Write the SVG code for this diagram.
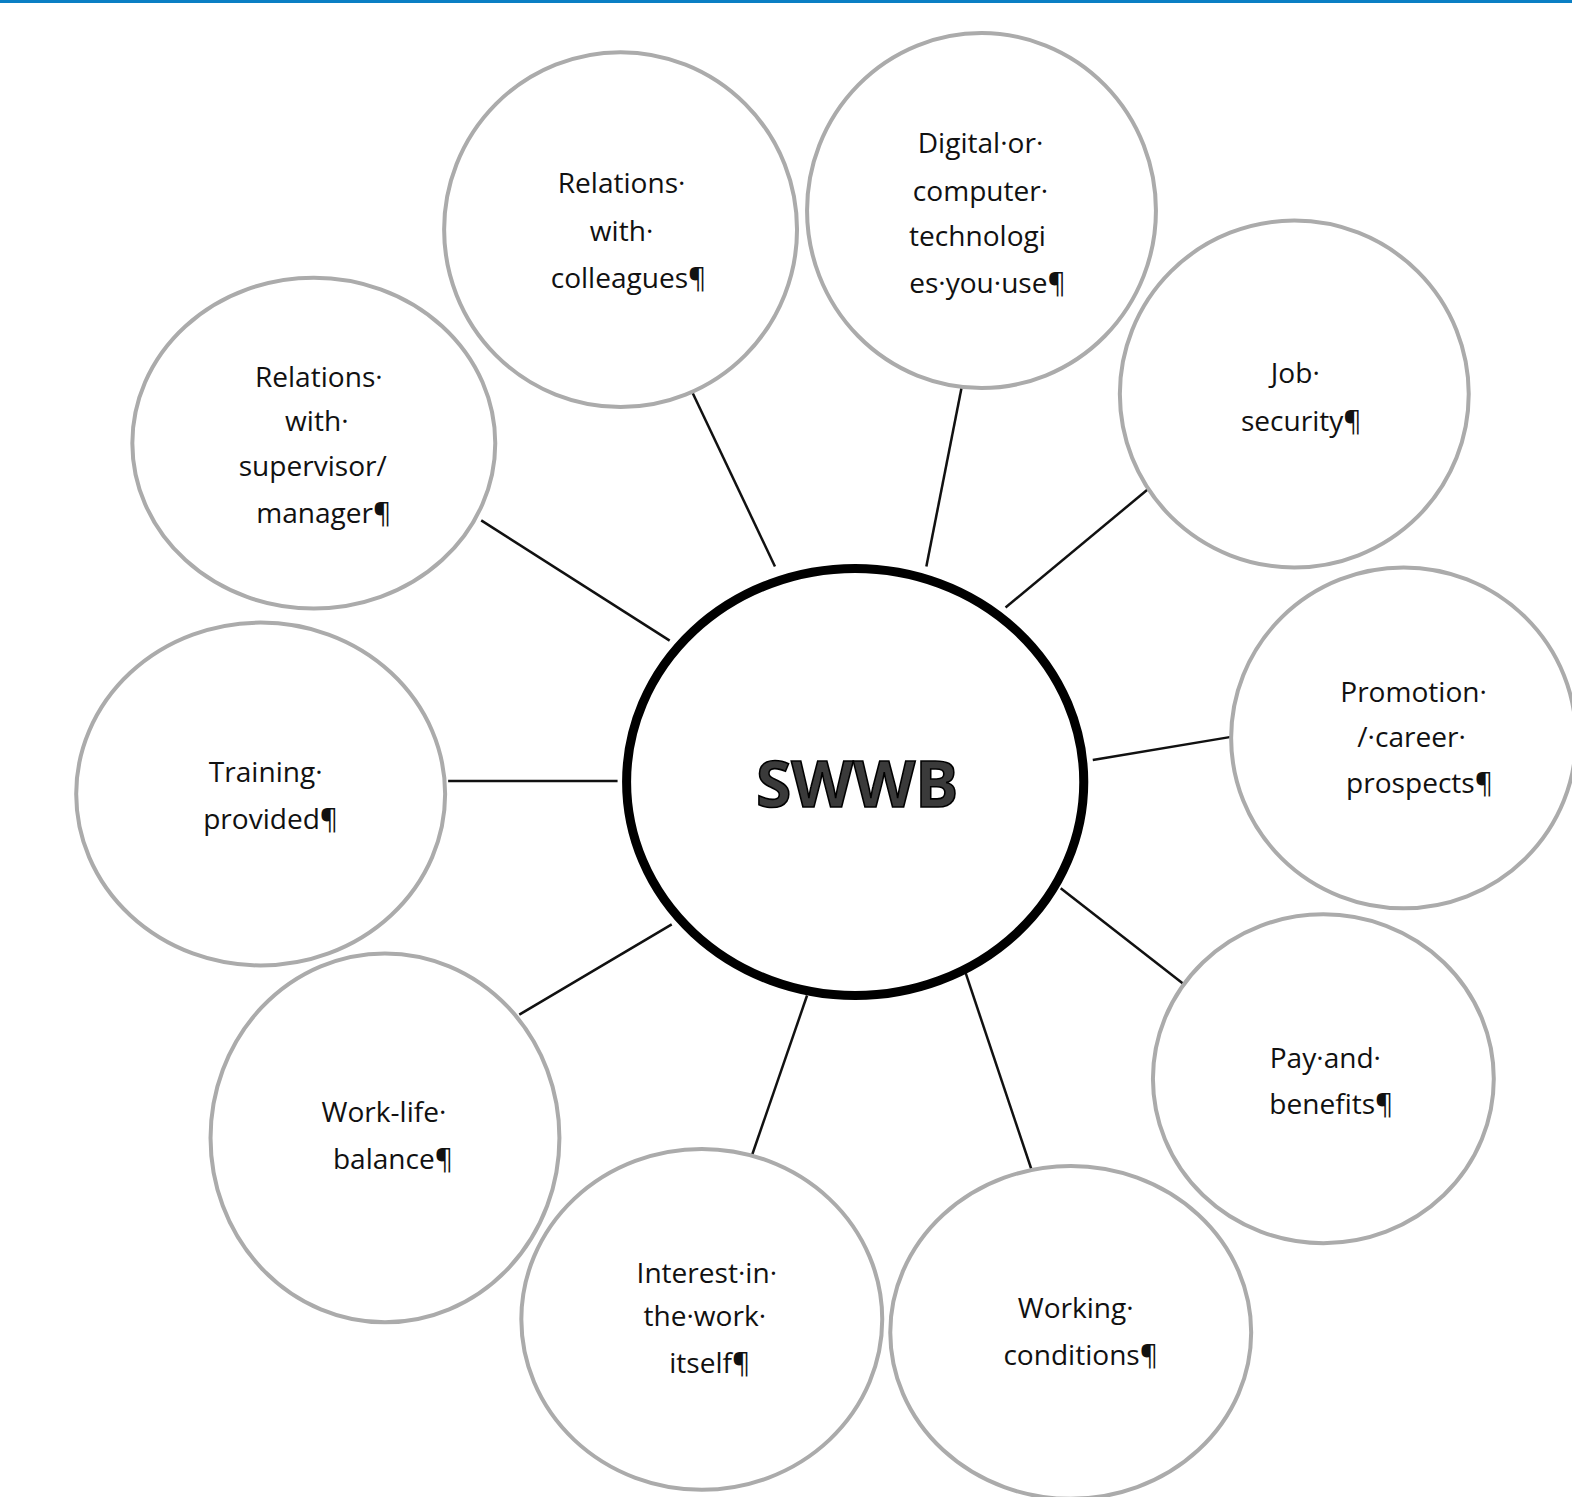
<svg xmlns="http://www.w3.org/2000/svg" width="1572" height="1497" viewBox="0 0 1572 1497">
  <style>
    .bubble { fill: #ffffff; stroke: #ababab; stroke-width: 4; }
    .hub { fill: #ffffff; stroke: #000000; stroke-width: 9; }
    .lbl { font-family: "Open Sans", "Liberation Sans", sans-serif; font-size: 28px; fill: #111111; text-anchor: middle; }
    .hubtxt { font-family: "Open Sans", "Liberation Sans", sans-serif; font-size: 64px; font-weight: 700; fill: #3a3a3a; stroke: #000000; stroke-width: 1.6; text-anchor: middle; }
    .link { stroke: #111111; stroke-width: 2.5; fill: none; }
  </style>
  <rect x="0" y="0" width="1572" height="1497" fill="#ffffff"/>
  <rect x="0" y="0" width="1572" height="3" fill="#0a7fc4"/>
  <g transform="scale(1.00255)">
    <g id="connectors">
      <line class="link" x1="689" y1="388" x2="773" y2="565"/>
      <line class="link" x1="962" y1="372" x2="924" y2="565"/>
      <line class="link" x1="1151" y1="483" x2="1003" y2="606"/>
      <line class="link" x1="1228" y1="735" x2="1090" y2="758"/>
      <line class="link" x1="1185" y1="985" x2="1058" y2="886"/>
      <line class="link" x1="1030" y1="1170" x2="963" y2="970"/>
      <line class="link" x1="744" y1="1170" x2="805" y2="993"/>
      <line class="link" x1="518" y1="1012" x2="670" y2="922"/>
      <line class="link" x1="447" y1="779" x2="616" y2="779"/>
      <line class="link" x1="480" y1="519" x2="668" y2="639"/>
    </g>
    <g id="node-colleagues">
      <ellipse class="bubble" cx="619" cy="229" rx="176" ry="177"/>
      <text class="lbl" x="620" y="193">Relations·</text>
      <text class="lbl" x="620" y="240">with·</text>
      <text class="lbl" x="627" y="287">colleagues¶</text>
    </g>
    <g id="node-digital">
      <ellipse class="bubble" cx="979" cy="210" rx="174" ry="177"/>
      <text class="lbl" x="978" y="153">Digital·or·</text>
      <text class="lbl" x="978" y="200">computer·</text>
      <text class="lbl" x="975" y="245">technologi</text>
      <text class="lbl" x="985" y="292">es·you·use¶</text>
    </g>
    <g id="node-job-security">
      <ellipse class="bubble" cx="1291" cy="393" rx="174" ry="173"/>
      <text class="lbl" x="1292" y="382">Job·</text>
      <text class="lbl" x="1298" y="430">security¶</text>
    </g>
    <g id="node-promotion">
      <ellipse class="bubble" cx="1400" cy="736" rx="172" ry="170"/>
      <text class="lbl" x="1410" y="700">Promotion·</text>
      <text class="lbl" x="1408" y="745">/·career·</text>
      <text class="lbl" x="1416" y="791">prospects¶</text>
    </g>
    <g id="node-pay">
      <ellipse class="bubble" cx="1320" cy="1076" rx="170" ry="164"/>
      <text class="lbl" x="1322" y="1065">Pay·and·</text>
      <text class="lbl" x="1328" y="1111">benefits¶</text>
    </g>
    <g id="node-working-conditions">
      <ellipse class="bubble" cx="1068" cy="1329" rx="180" ry="166"/>
      <text class="lbl" x="1073" y="1315">Working·</text>
      <text class="lbl" x="1078" y="1362">conditions¶</text>
    </g>
    <g id="node-interest">
      <ellipse class="bubble" cx="700" cy="1316" rx="180" ry="170"/>
      <text class="lbl" x="705" y="1280">Interest·in·</text>
      <text class="lbl" x="703" y="1323">the·work·</text>
      <text class="lbl" x="708" y="1370">itself¶</text>
    </g>
    <g id="node-work-life">
      <ellipse class="bubble" cx="384" cy="1135" rx="174" ry="184"/>
      <text class="lbl" x="383" y="1119">Work-life·</text>
      <text class="lbl" x="392" y="1166">balance¶</text>
    </g>
    <g id="node-training">
      <ellipse class="bubble" cx="260" cy="792" rx="184" ry="171"/>
      <text class="lbl" x="265" y="780">Training·</text>
      <text class="lbl" x="270" y="827">provided¶</text>
    </g>
    <g id="node-supervisor">
      <ellipse class="bubble" cx="313" cy="442" rx="181" ry="165"/>
      <text class="lbl" x="318" y="386">Relations·</text>
      <text class="lbl" x="316" y="430">with·</text>
      <text class="lbl" x="312" y="475">supervisor/</text>
      <text class="lbl" x="323" y="522">manager¶</text>
    </g>
    <g id="node-swwb">
      <ellipse class="hub" cx="853" cy="780" rx="228" ry="213"/>
      <text class="hubtxt" x="855" y="805">SWWB</text>
    </g>
  </g>
</svg>
